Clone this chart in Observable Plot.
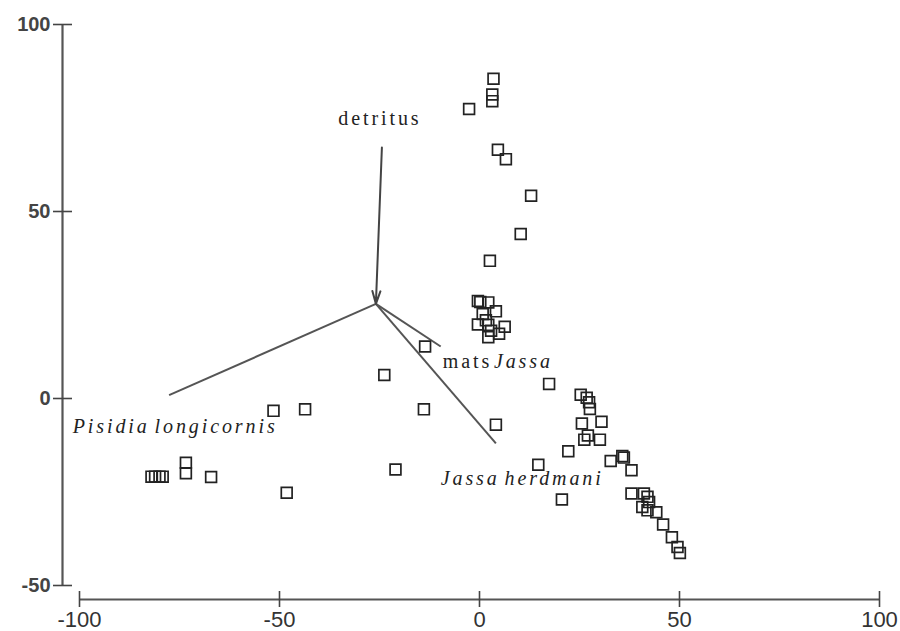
<!DOCTYPE html>
<html>
<head>
<meta charset="utf-8">
<script src="https://cdn.jsdelivr.net/npm/d3@7"></script>
<script src="https://cdn.jsdelivr.net/npm/@observablehq/plot@0.6"></script>
<style>
  html, body { margin: 0; padding: 0; background: #fff; }
  #chart svg { display: block; }
  g[font-family*="Liberation Serif"] text { letter-spacing: 2.9px; word-spacing: -3px; }
</style>
</head>
<body>
<div id="chart"></div>
<script>
// Site scores (squares)
const pointX = [
  3.5, 3.2, 3.2, -2.6, 4.6, 6.6, 12.9, 10.3, 2.6,
  -0.4, 0.2, 2.2, 4.1, 0.8, 1.6, -0.4, 2.2, 6.3, 4.9, 2.2, 2.9,
  -13.6, -23.8, -13.9, -51.5, -43.6, -21, -48.2, -67.1, -73.4, -73.4, -82, -81.1, -80, -79.2,
  4.1, 17.4, 25.3, 26.8, 27.4, 27.6, 25.6, 30.5, 26.2, 27.1, 30.1, 22.2, 14.7, 32.8, 35.7, 36.1, 38,
  20.6, 38, 41.1, 42, 42.4, 40.7, 42, 44.2, 45.9, 48.1, 49.5, 50.1
];
const pointY = [
  85.5, 81.3, 79.5, 77.4, 66.5, 64, 54.2, 44, 36.8,
  26.1, 25.8, 25.7, 23.3, 22.6, 20.9, 19.8, 19.7, 19.2, 17.3, 16.4, 18.1,
  13.9, 6.3, -2.9, -3.3, -2.9, -19, -25.2, -21, -17.2, -20, -20.9, -20.9, -20.9, -20.9,
  -7, 3.9, 1, 0.2, -1, -2.8, -6.7, -6.2, -11, -9.9, -11, -14.1, -17.7, -16.7, -15.4, -15.8, -19.2,
  -27, -25.4, -25.4, -26.3, -27.7, -29, -29.9, -30.4, -33.7, -37.1, -39.7, -41.3
];

// Biplot vectors (from common origin)
const vecNames = ["Pisidia longicornis", "mats Jassa", "Jassa herdmani"];
const vecX1 = [-25.9, -25.9, -25.9];
const vecY1 = [25.3, 25.3, 25.3];
const vecX2 = [-77.6, -9.7, 4.1];
const vecY2 = [0.9, 13.9, -12];

// detritus arrow (drawn toward the origin)
const detX1 = [-24.4];
const detY1 = [67.1];
const detX2 = [-25.9];
const detY2 = [25.3];

// Labels
const labelText = ["detritus", "Pisidia longicornis", "mats", "Jassa", "Jassa herdmani"];
const labelX = [-24.9, -101.7, -9.2, 3.6, -9.7];
const labelY = [74.9, -7.5, 9.9, 9.9, -21.4];
const labelStyle = ["center", "italic", "normal", "italic", "italic"];

// Axis ticks
const xTicks = [-100, -50, 0, 50, 100];
const yTicks = [-50, 0, 50, 100];

const points = pointX.map((x, i) => ({x, y: pointY[i]}));
const vectors = vecNames.map((name, i) => ({name, x1: vecX1[i], y1: vecY1[i], x2: vecX2[i], y2: vecY2[i]}));
const detritus = detX1.map((x1, i) => ({x1, y1: detY1[i], x2: detX2[i], y2: detY2[i]}));
const labels = labelText.map((text, i) => ({text, x: labelX[i], y: labelY[i], style: labelStyle[i]}));

const serif = "Liberation Serif, Times New Roman, serif";
const fmt = d => String(d);

const chart = Plot.plot({
  width: 900,
  height: 631,
  marginLeft: 79,
  marginRight: 21,
  marginTop: 24,
  marginBottom: 46,
  x: {domain: [-100, 100]},
  y: {domain: [-50, 100]},
  style: {background: "#fff", fontFamily: "Liberation Sans, Arial, sans-serif", color: "#333", overflow: "visible"},
  marks: [
    Plot.ruleX([-100], {dx: -17, stroke: "#555", strokeWidth: 2.2}),
    Plot.ruleY([-50], {dy: 14, stroke: "#555", strokeWidth: 2.2}),
    Plot.axisY(yTicks, {tickSize: 19, dx: -7, tickPadding: 3, fontSize: 20, fontWeight: "bold", tickFormat: fmt, label: null, stroke: "#444", strokeWidth: 1.6, fill: "#444"}),
    Plot.axisX(xTicks, {tickSize: 16, dy: 6, tickPadding: 4, fontSize: 22, tickFormat: fmt, label: null, stroke: "#444", strokeWidth: 1.6, fill: "#333"}),
    Plot.link(vectors, {x1: "x1", y1: "y1", x2: "x2", y2: "y2", stroke: "#555", strokeWidth: 2}),
    Plot.arrow(detritus, {x1: "x1", y1: "y1", x2: "x2", y2: "y2", stroke: "#444", strokeWidth: 2, headLength: 10, headAngle: 35}),
    Plot.dot(points, {x: "x", y: "y", symbol: "square", r: 6.1, stroke: "#222", strokeWidth: 1.7, fill: "none"}),
    Plot.text(labels.filter(d => d.style === "center"), {x: "x", y: "y", text: "text", textAnchor: "middle", fontFamily: serif, fontSize: 20, fill: "#222"}),
    Plot.text(labels.filter(d => d.style === "normal"), {x: "x", y: "y", text: "text", textAnchor: "start", fontFamily: serif, fontSize: 20, fill: "#222"}),
    Plot.text(labels.filter(d => d.style === "italic"), {x: "x", y: "y", text: "text", textAnchor: "start", fontStyle: "italic", fontFamily: serif, fontSize: 20, fill: "#222"})
  ]
});
document.getElementById("chart").appendChild(chart);
</script>
</body>
</html>
